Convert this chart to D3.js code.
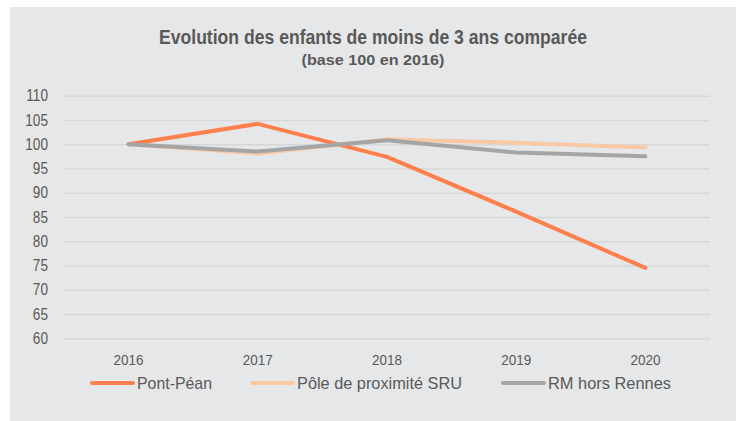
<!DOCTYPE html>
<html lang="fr">
<head>
  <meta charset="UTF-8">
  <title>index</title>
  <style type="text/css">
    body { margin: 0; background: #fff; }
    svg { display: block; }
    .title { font-family: "Liberation Sans", Arial, sans-serif; font-weight: bold; fill: #595959; }
    .tick text, .legend text { font-family: "Liberation Sans", Arial, sans-serif; fill: #595959; }
  </style>
</head>
<body>
<svg width="736" height="421"></svg>
<script src="https://d3js.org/d3.v7.min.js"></script>
<script>
  const years = ['2016', '2017', '2018', '2019', '2020']
  const pontPean = [100, 104.2, 97.4, 86.1, 74.5]
  const poleSRU = [100, 98.1, 101.0, 100.3, 99.3]
  const rmHorsRennes = [100, 98.5, 100.8, 98.3, 97.5]
  const yTicks = [60, 65, 70, 75, 80, 85, 90, 95, 100, 105, 110]

  const series = [
    { name: 'Pont-Péan', values: pontPean, color: '#ff7f4d', w: 75 },
    { name: 'Pôle de proximité SRU', values: poleSRU, color: '#f9c9a5', w: 165 },
    { name: 'RM hors Rennes', values: rmHorsRennes, color: '#a5a5a5', w: 123 }
  ]
  // la ligne claire est dessinee sous les deux autres
  const drawOrder = [1, 0, 2]

  // police etroite simulee (Arial Narrow absente)
  function narrow (sel, k) {
    sel.each(function () {
      const len = this.getComputedTextLength()
      d3.select(this).attr('textLength', len * k).attr('lengthAdjust', 'spacingAndGlyphs')
    })
  }

  const svg = d3.select('svg')
  svg.append('rect').attr('x', 10).attr('y', 7).attr('width', 726).attr('height', 414).attr('fill', '#e6e7e8')

  svg.append('text').attr('class', 'title').attr('x', 373).attr('y', 44)
    .attr('text-anchor', 'middle').attr('font-size', 19.5)
    .attr('textLength', 428).attr('lengthAdjust', 'spacingAndGlyphs')
    .text('Evolution des enfants de moins de 3 ans comparée')
  svg.append('text').attr('class', 'title').attr('x', 373).attr('y', 65)
    .attr('text-anchor', 'middle').attr('font-size', 15)
    .attr('textLength', 143).attr('lengthAdjust', 'spacingAndGlyphs')
    .text('(base 100 en 2016)')

  const x = d3.scaleBand().domain(years).range([64, 710])
  const y = d3.scaleLinear().domain([60, 110]).range([338.3, 95.7])

  const yAxis = svg.append('g').attr('transform', 'translate(64,0)')
    .call(d3.axisLeft(y).tickValues(yTicks).tickSize(-646).tickPadding(16))
  yAxis.select('.domain').remove()
  yAxis.selectAll('.tick line').attr('stroke', '#d6d7d9').attr('stroke-width', 1.5)
  yAxis.selectAll('.tick text').attr('font-size', 16).call(narrow, 0.85)

  const xAxis = svg.append('g').attr('transform', 'translate(0,338)')
    .call(d3.axisBottom(x).tickSize(0).tickPadding(16))
  xAxis.select('.domain').remove()
  xAxis.selectAll('.tick text').attr('font-size', 15).call(narrow, 0.9)

  const line = d3.line().x((d, i) => x(years[i]) + x.bandwidth() / 2).y(d => y(d))

  drawOrder.forEach(i => {
    svg.append('path').datum(series[i].values).attr('d', line)
      .attr('fill', 'none').attr('stroke', series[i].color).attr('stroke-width', 4)
      .attr('stroke-linecap', 'round').attr('stroke-linejoin', 'round')
  })

  const legendX = [92, 252, 503]
  const legend = svg.append('g').attr('class', 'legend')
  series.forEach((s, i) => {
    legend.append('line').attr('x1', legendX[i]).attr('x2', legendX[i] + 41)
      .attr('y1', 383).attr('y2', 383).attr('stroke', s.color).attr('stroke-width', 4).attr('stroke-linecap', 'round')
    legend.append('text').attr('x', legendX[i] + 45).attr('y', 389).attr('font-size', 17)
      .attr('textLength', s.w).attr('lengthAdjust', 'spacingAndGlyphs').text(s.name)
  })
</script>
</body>
</html>
